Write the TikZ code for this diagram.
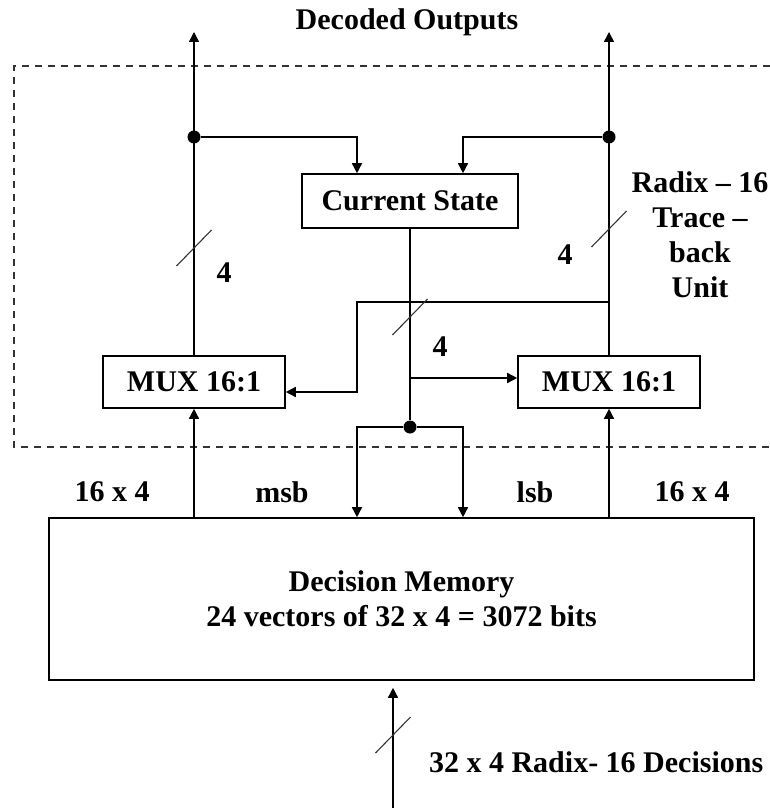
\documentclass[tikz,border=0pt]{standalone}
\usepackage{fontspec}
\setmainfont{Liberation Serif}
\usetikzlibrary{arrows.meta,positioning}

\begin{document}
\begin{tikzpicture}[
x=0.5pt,y=-0.5pt,
font=\fontsize{15}{17.5}\selectfont\bfseries,
blk/.style={draw,line width=0.8pt,inner sep=0pt,align=center},
arr/.style={-{Triangle[length=5pt,width=5pt]},line width=0.75pt},
wire/.style={line width=0.75pt},
dot/.style={circle,fill,inner sep=0pt,minimum size=6.5pt},
bus/.style={gray!40!black,line width=0.55pt},
frame/.style={dash pattern=on 3.5pt off 3pt,line width=0.6pt,gray!40!black}
]
\useasboundingbox (0,0) rectangle (770,808);
% unit boundary
\draw[frame] (770,66) -- (14,66) -- (14,447) -- (770,447);
\node (title) at (407,22) {Decoded Outputs};
\node[align=center] (unit) at (700,235) {Radix – 16\\Trace –\\back\\Unit};
% blocks
\node[blk,minimum width=108pt,minimum height=27pt] (cs) at (410,201) {Current State};
\node[blk,minimum width=91pt,minimum height=26pt] (muxl) at (194,382) {MUX 16:1};
\node[blk,minimum width=91pt,minimum height=26pt] (muxr) at (609,382) {MUX 16:1};
\node[blk,minimum width=352.5pt,minimum height=81pt] (dm) at (401.5,599) {Decision Memory\\24 vectors of 32 x 4 = 3072 bits};
% junctions and free ends
\node[dot] (jl) at (194,137) {};
\node[dot] (jr) at (609,137) {};
\node[dot] (jc) at (410,427) {};
\coordinate (outl) at (194,32);
\coordinate (outr) at (609,32);
\coordinate (tap) at (609,302);
\coordinate (tapc) at (410,378);
\coordinate (inp) at (393,808);
% connectors
\draw[arr] (muxl) -- (outl);
\draw[arr] (muxr) -- (outr);
\draw[arr] (jl) -| ([xshift=-26.5pt]cs.north);
\draw[arr] (jr) -| ([xshift=26.5pt]cs.north);
\draw[wire] (cs) -- (jc);
\draw[arr] (jc) -| ([xshift=-26.5pt]cs.south |- dm.north);
\draw[arr] (jc) -| ([xshift=26.5pt]cs.south |- dm.north);
\draw[arr] (tap) -- ++(-252,0) |- ([yshift=-5pt]muxl.east);
\draw[arr] (tapc) -- (tapc -| muxr.west);
\draw[arr] (muxl |- dm.north) -- (muxl);
\draw[arr] (muxr |- dm.north) -- (muxr);
\draw[arr,shorten >=3.5pt] (inp) -- (inp |- dm.south);
% bus width ticks
\draw[bus] (176.5,266) -- (211.5,230);
\draw[bus] (591.5,247) -- (626.5,211);
\draw[bus] (392.5,335) -- (427.5,299);
\draw[bus] (375.5,753) -- (410.5,717);
% labels
\node (wl) at (224,273) {4};
\node (wr) at (565,255) {4};
\node (wc) at (440,347) {4};
\node (dl) at (112,492) {16 x 4};
\node (msb) at (282,492) {msb};
\node (lsb) at (535,492) {lsb};
\node (dr) at (692,492) {16 x 4};
\node[anchor=west] (dec) at (422,762) {32 x 4 Radix- 16 Decisions};
\end{tikzpicture}
\end{document}
